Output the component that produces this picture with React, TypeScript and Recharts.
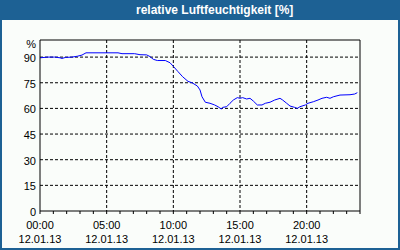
import React from 'react';
import { LineChart, Line, XAxis, YAxis, CartesianGrid, ReferenceLine } from 'recharts';

// hours since 00:00 on 12.01.13
const hours = [
  0, 0.3, 0.6, 1.1, 1.5, 1.65, 1.9, 2.4, 2.8, 3.15, 3.45, 4.5, 5.85, 6.15, 7.1, 7.5, 8.0, 8.25, 8.5, 8.8,
  9.4, 9.75, 10, 10.35, 10.7, 11.1, 11.4, 11.8, 12, 12.15, 12.4, 12.75, 13.1, 13.35, 13.6, 13.7, 14, 14.25,
  14.5, 14.8, 15, 15.2, 15.5, 15.75, 16, 16.3, 16.65, 16.9, 17.25, 17.6, 18, 18.2, 18.5, 18.75, 19.1, 19.3,
  19.5, 19.9, 20.1, 20.5, 20.85, 21.15, 21.5, 21.75, 22, 22.5, 23.25, 23.6, 23.8,
];
const humidity = [
  89.6, 89.8, 90, 90, 89.6, 89.2, 89.8, 90, 90.5, 91.2, 92.5, 92.5, 92.5, 92, 92, 91.4, 91.3, 90.3, 88.7, 88,
  88, 86.7, 84.6, 81.5, 78.5, 75.8, 75, 73.1, 70.8, 66.8, 63.6, 63, 62, 61, 59.6, 60.6, 61, 63,
  64.9, 66.3, 65.9, 66.3, 65.5, 65.9, 64.3, 62, 62, 63, 63.6, 64.9, 65.9, 64.9, 63, 61.4, 60.6, 60,
  61, 62, 63, 63.9, 64.9, 65.9, 66.5, 65.9, 66.8, 67.8, 68, 68.4, 69.2,
];
const yTicks = [0, 15, 30, 45, 60, 75, 90];
const xTicks = Array.from({ length: 25 }, (_, i) => i);
const xLabels: Record<number, string> = { 0: '00:00', 5: '05:00', 10: '10:00', 15: '15:00', 20: '20:00' };
const dateLabel = '12.01.13';

const data = hours.map((h, i) => ({ h, v: humidity[i] }));

const FONT = '"Liberation Sans", Arial, sans-serif';

const XTick = (props: any) => {
  const { x, y, payload } = props;
  const label = xLabels[payload.value];
  return (
    <g>
      <line x1={x} y1={y} x2={x} y2={y + 3} stroke="#000" />
      {label && (
        <>
          <text x={x} y={y + 18} textAnchor="middle" fontSize={11} fontFamily={FONT} fill="#000">{label}</text>
          <text x={x} y={y + 32} textAnchor="middle" fontSize={11} fontFamily={FONT} fill="#000">{dateLabel}</text>
        </>
      )}
    </g>
  );
};

const App = () => {
  return (
    <div style={{ position: 'absolute', left: 0, top: 0, width: 400, height: 250, boxSizing: 'border-box', border: '2px solid #1d6194', borderTop: 'none', background: '#fafdfa' }}>
      <div style={{ position: 'absolute', left: -2, top: 0, width: 400, height: 20, background: '#1d6194' }}>
        <span style={{ position: 'absolute', left: 136, top: 3, color: '#fff', fontWeight: 'bold', fontSize: 12, fontFamily: FONT, whiteSpace: 'nowrap' }}>
          relative Luftfeuchtigkeit [%]
        </span>
      </div>
      <div style={{ position: 'absolute', left: -2, top: 0 }}>
        <LineChart width={400} height={250} data={data} margin={{ top: 40, right: 40, bottom: 0, left: 0 }}>
          <CartesianGrid stroke="#000" strokeDasharray="3 2" verticalValues={[5, 10, 15, 20]} horizontalValues={[15, 30, 45, 60, 75, 90]} />
          <XAxis dataKey="h" type="number" domain={[0, 24]} ticks={xTicks} interval={0} height={39}
            axisLine={{ stroke: '#000' }} tickLine={false} tickSize={0} tickMargin={0} tick={<XTick />} />
          <YAxis type="number" domain={[0, 100]} ticks={yTicks} width={40} interval={0}
            axisLine={{ stroke: '#000' }} tickLine={false} tickSize={0} tickMargin={4}
            tick={{ fontSize: 11, fontFamily: FONT, fill: '#000', dy: 1 }}
            label={{ value: '%', position: 'insideTopRight', offset: 0, dx: -4, dy: 0, fontSize: 11, fontFamily: FONT, fill: '#000' }} />
          <ReferenceLine y={100} stroke="#000" />
          <ReferenceLine x={24} stroke="#000" />
          <Line type="linear" dataKey="v" stroke="#0000ff" strokeWidth={1} dot={false} isAnimationActive={false} />
        </LineChart>
      </div>
    </div>
  );
};

export default App;
